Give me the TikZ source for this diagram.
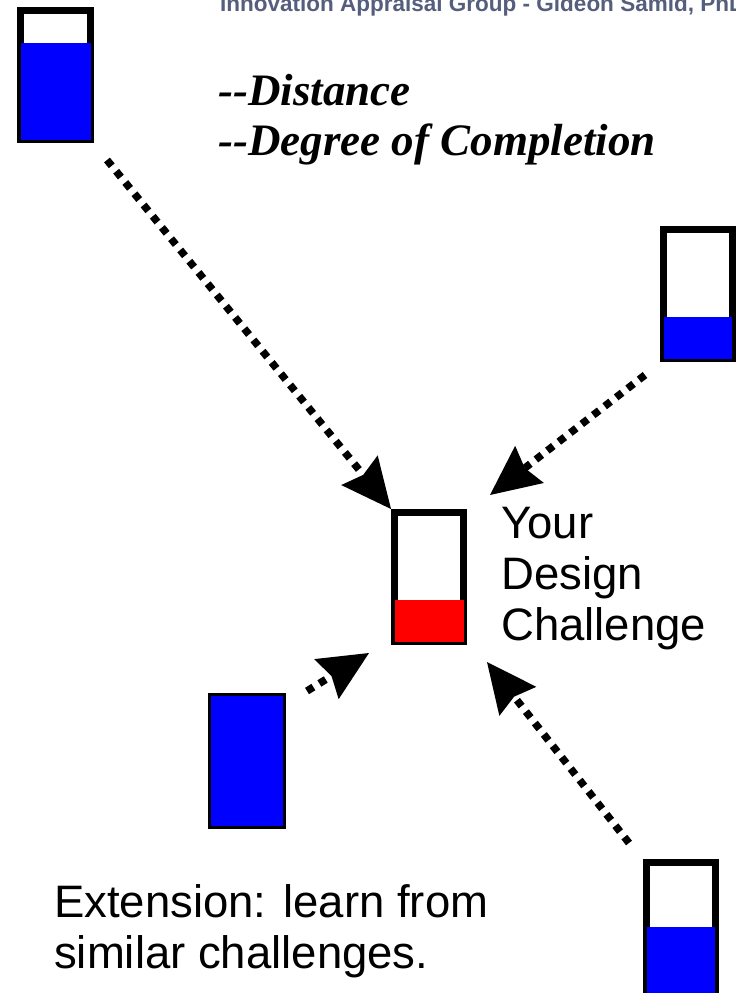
\documentclass[tikz,border=0pt]{standalone}
\usepackage{fontspec}
\setmainfont{Liberation Serif}
\setsansfont{Liberation Sans}
\usetikzlibrary{arrows.meta}
\definecolor{headgray}{RGB}{85,95,125}
\definecolor{barblue}{RGB}{0,0,255}
\definecolor{barred}{RGB}{255,0,0}
\tikzset{
  frame/.style={draw=black, line width=7pt, fill=white, inner sep=0pt, outer sep=0pt},
  solidbar/.style={draw=black, line width=3pt, fill=barblue, inner sep=0pt, outer sep=0pt},
  dotarrow/.style={line width=7.5pt, dash pattern=on 7.5pt off 7pt,
    -{Stealth[length=50pt,width=47pt,inset=6pt,line width=0pt]}},
  serifhead/.style={font=\fontsize{45}{50}\selectfont\bfseries\itshape, inner sep=0pt, anchor=base west},
  sanslabel/.style={font=\sffamily\fontsize{45.5}{51}\selectfont, inner sep=0pt, anchor=base west},
}
\begin{document}
\begin{tikzpicture}[x=1pt,y=-1pt]
\useasboundingbox (0,0) rectangle (736,993);
\fill[white] (0,0) rectangle (736,993);
% header
\node[font=\sffamily\bfseries\fontsize{22.5}{26}\selectfont, text=headgray, inner sep=0pt, anchor=base west] (hdr) at (220,12) {Innovation Appraisal Group - Gideon Samid, PhD};
% bars
\node[frame, minimum width=70pt, minimum height=129pt] (b1) at (55.5,75) {};
\fill[barblue] (21,43) rectangle (90.5,140);
\node[frame, minimum width=69pt, minimum height=129pt] (b2) at (698,294) {};
\fill[barblue] (664,317) rectangle (732,359);
\node[frame, minimum width=69pt, minimum height=129pt] (bc) at (429,577) {};
\fill[barred] (394.5,600) rectangle (463.5,642);
\node[solidbar, minimum width=75pt, minimum height=133pt] (b3) at (247,761) {};
\node[frame, minimum width=69pt, minimum height=140pt] (b4) at (681,932.5) {};
\fill[barblue] (647,927) rectangle (715,1000);
% arrow ends
\coordinate (s1) at (107,160);
\coordinate (t1) at (391,509);
\coordinate (s2) at (645,375);
\coordinate (t2) at (490,495);
\coordinate (s3) at (307,691);
\coordinate (t3) at (369,653);
\coordinate (s4) at (629,843);
\coordinate (t4) at (487,662);
\draw[dotarrow] (s1) -- (t1);
\draw[dotarrow] (s2) -- (t2);
\draw[dotarrow] (s3) -- (t3);
\draw[dotarrow] (s4) -- (t4);
% texts
\node[serifhead] (d1) at (218,105) {-{}-Distance};
\node[serifhead] (d2) at (218,155) {-{}-Degree of Completion};
\node[sanslabel] (y1) at (501,538) {Your};
\node[sanslabel] (y2) at (501,589) {Design};
\node[sanslabel] (y3) at (501,640) {Challenge};
\node[sanslabel] (e1) at (54,917) {Extension: learn from};
\node[sanslabel] (e2) at (54,968) {similar challenges.};
\end{tikzpicture}
\end{document}
